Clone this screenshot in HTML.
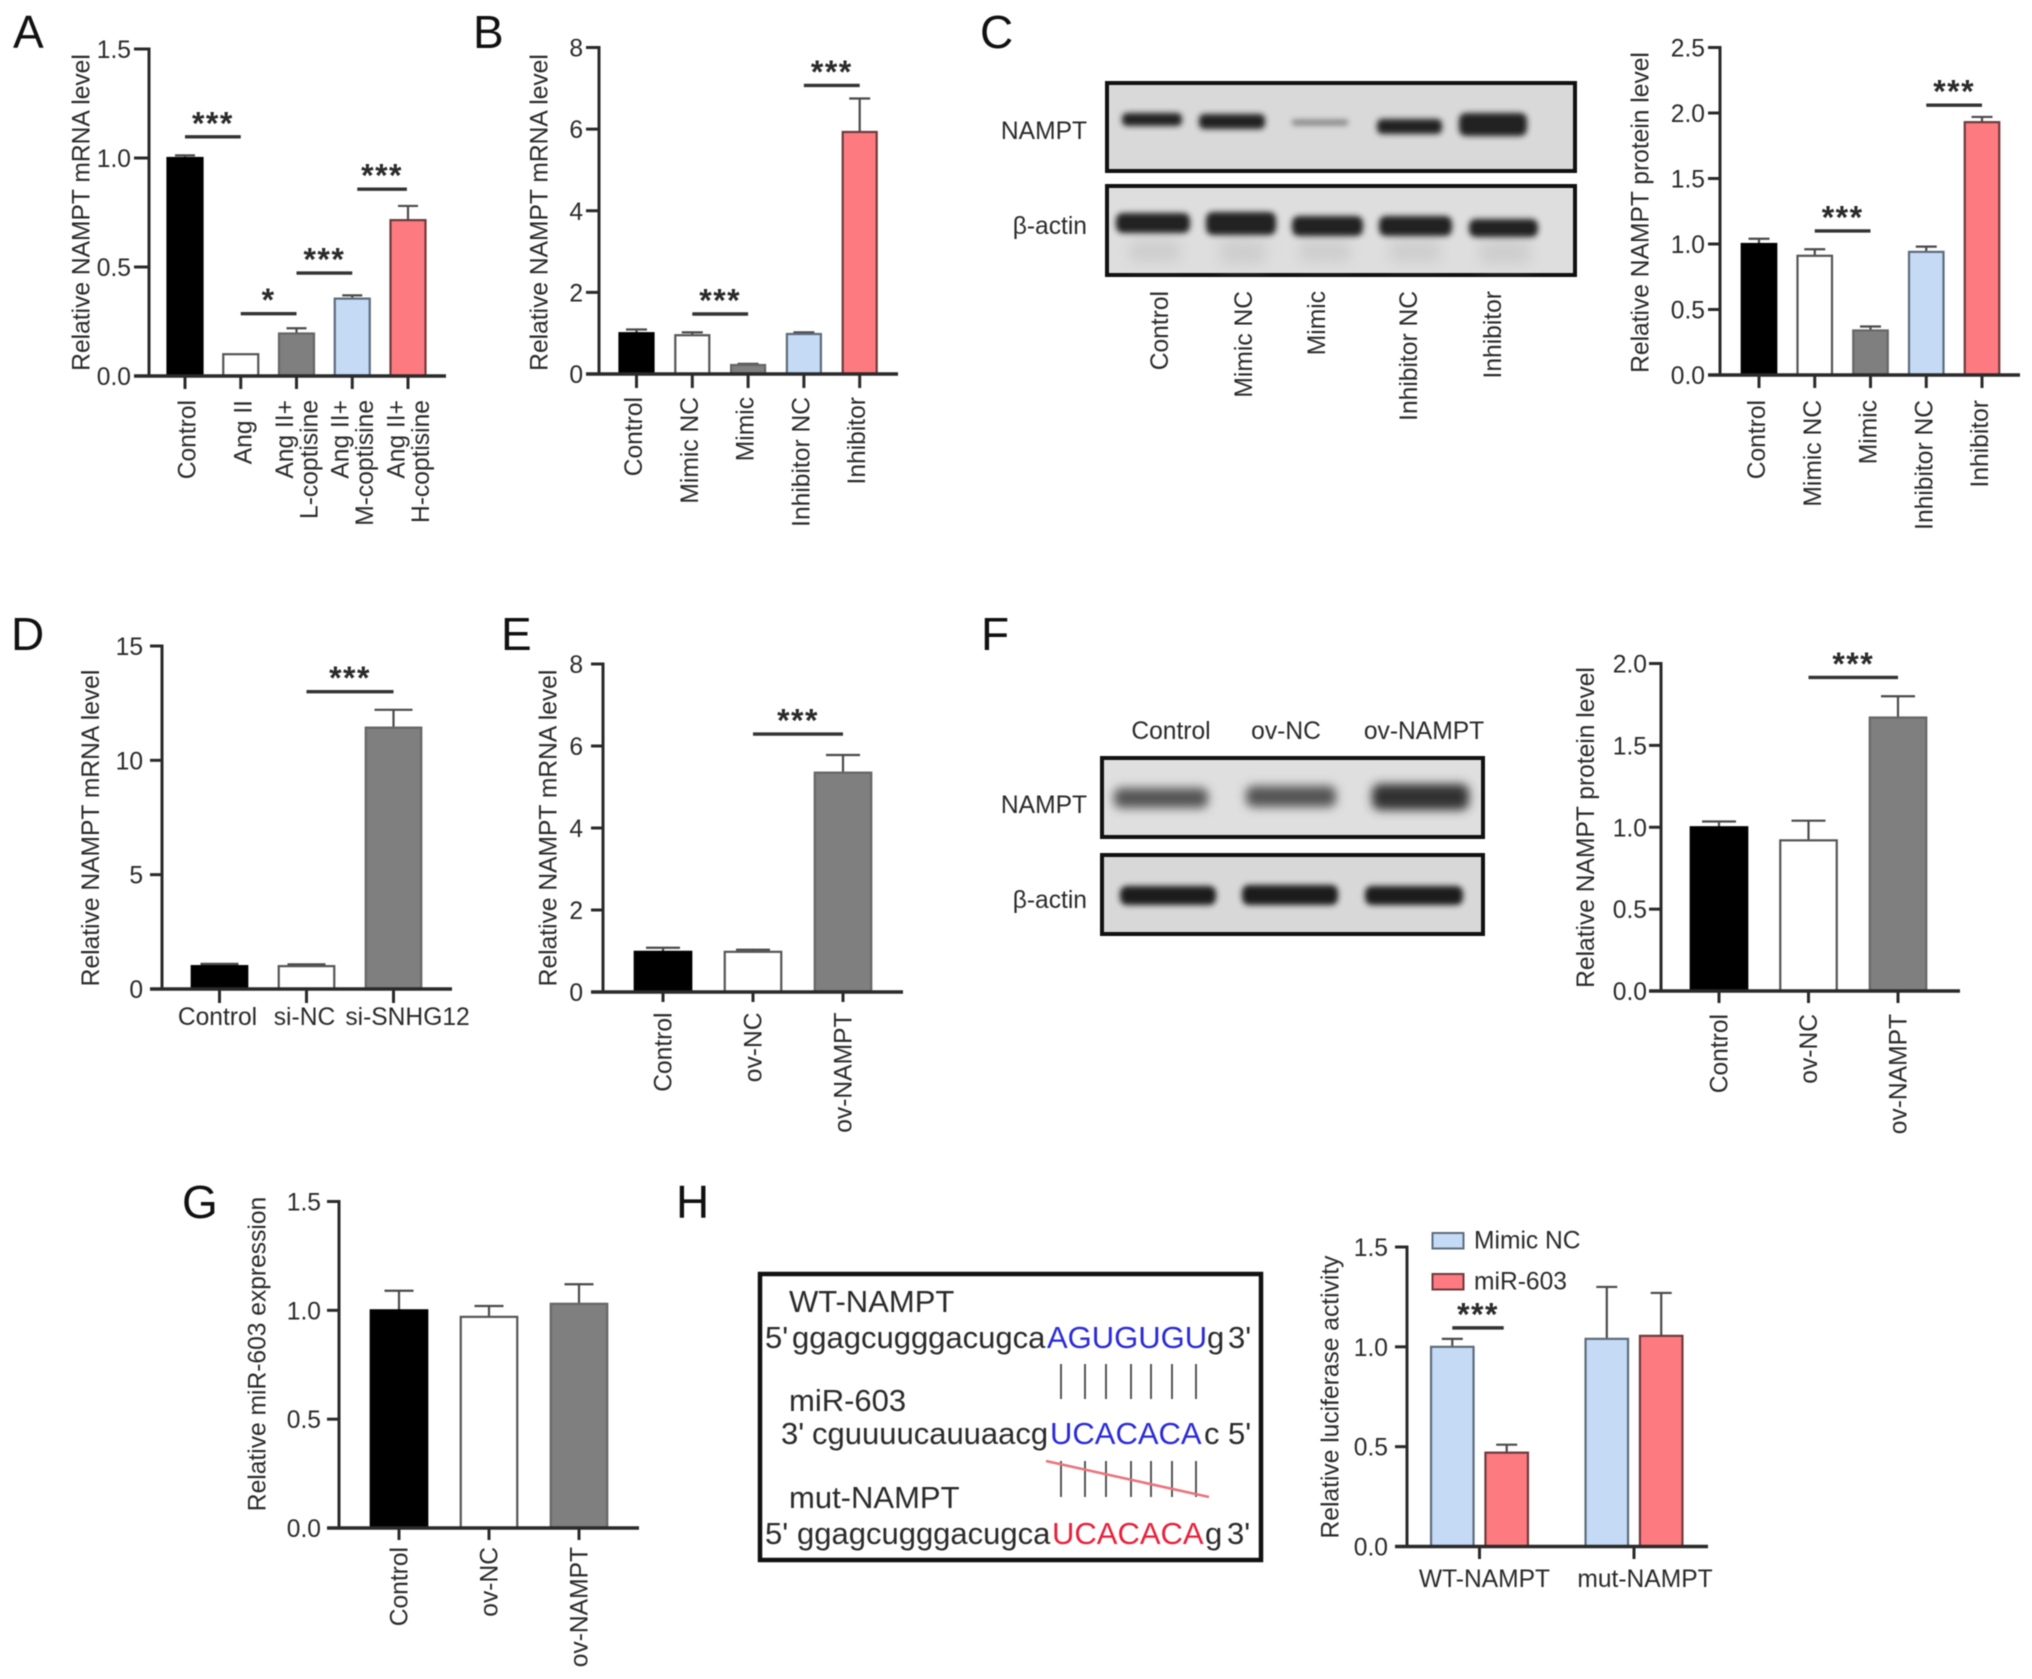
<!DOCTYPE html>
<html lang="en">
<head>
<meta charset="utf-8">
<title>NAMPT expression figure</title>
<style>
html,body{margin:0;padding:0;background:#fff;width:2032px;height:1679px;overflow:hidden}
svg{display:block;filter:blur(0.6px)}
text{font-family:"Liberation Sans",sans-serif;fill:#2a2a2a}
.letter{font-size:46px;fill:#111}
.lab{font-size:24.6px}
.seq{font-size:31px}
</style>
</head>
<body>
<svg id="fig" xmlns="http://www.w3.org/2000/svg" width="2032" height="1679" viewBox="0 0 2032 1679">
<defs>
<filter id="b2" x="-30%" y="-100%" width="160%" height="300%"><feGaussianBlur stdDeviation="3"/></filter>
<filter id="b4" x="-30%" y="-100%" width="160%" height="300%"><feGaussianBlur stdDeviation="5"/></filter>
<filter id="b8" x="-30%" y="-100%" width="160%" height="300%"><feGaussianBlur stdDeviation="7"/></filter>
</defs>
<rect width="2032" height="1679" fill="#fff"/>

<g>
<text class="letter" x="13" y="48">A</text>
<text class="letter" x="473" y="48">B</text>
<text class="letter" x="980" y="48">C</text>
<text class="letter" x="11" y="650">D</text>
<text class="letter" x="501" y="650">E</text>
<text class="letter" x="981" y="650">F</text>
<text class="letter" x="182" y="1218">G</text>
<text class="letter" x="676" y="1218">H</text>
</g>

<g>
<rect x="1107" y="83" width="468" height="88" fill="#d9d9d9" stroke="#111" stroke-width="4"/>
<rect x="1107" y="186" width="468" height="89" fill="#dedede" stroke="#111" stroke-width="4"/>
<g fill="#cdcdcd" filter="url(#b8)">
<rect x="1130" y="240" width="50" height="22"/>
<rect x="1220" y="240" width="45" height="24"/>
<rect x="1300" y="240" width="50" height="22"/>
<rect x="1390" y="240" width="50" height="22"/>
<rect x="1480" y="240" width="50" height="24"/>
</g>
<g fill="#242424" filter="url(#b2)">
<rect x="1122" y="113" width="60" height="13" rx="5"/>
<rect x="1199" y="114" width="66" height="15" rx="5"/>
<rect x="1292" y="120" width="56" height="5" rx="2" fill="#777"/>
<rect x="1377" y="119" width="65" height="15" rx="5"/>
<rect x="1459" y="113" width="68" height="23" rx="7"/>
<rect x="1116" y="213" width="74" height="20" rx="7"/>
<rect x="1206" y="212" width="70" height="23" rx="7"/>
<rect x="1292" y="216" width="71" height="20" rx="7"/>
<rect x="1379" y="216" width="73" height="20" rx="7"/>
<rect x="1469" y="219" width="69" height="18" rx="7"/>
</g>
<text class="lab" x="1087" y="139" text-anchor="end">NAMPT</text>
<text class="lab" x="1087" y="234" text-anchor="end">β-actin</text>
<text class="lab" transform="translate(1168,291) rotate(-90)" text-anchor="end">Control</text>
<text class="lab" transform="translate(1252,291) rotate(-90)" text-anchor="end">Mimic NC</text>
<text class="lab" transform="translate(1325,291) rotate(-90)" text-anchor="end">Mimic</text>
<text class="lab" transform="translate(1417,291) rotate(-90)" text-anchor="end">Inhibitor NC</text>
<text class="lab" transform="translate(1501,291) rotate(-90)" text-anchor="end">Inhibitor</text>
</g>

<g>
<rect x="1102" y="758" width="381" height="79" fill="#dfdfdf" stroke="#111" stroke-width="4"/>
<rect x="1102" y="855" width="381" height="79" fill="#d8d8d8" stroke="#111" stroke-width="4"/>
<g fill="#333" filter="url(#b4)">
<rect x="1114" y="788" width="94" height="20" rx="7" fill="#555"/>
<rect x="1246" y="786" width="90" height="21" rx="7" fill="#555"/>
<rect x="1372" y="784" width="97" height="26" rx="8"/>
</g>
<g fill="#1a1a1a" filter="url(#b2)">
<rect x="1120" y="886" width="96" height="19" rx="7"/>
<rect x="1242" y="885" width="96" height="20" rx="7"/>
<rect x="1365" y="886" width="98" height="19" rx="7"/>
</g>
<text class="lab" x="1171" y="739" text-anchor="middle">Control</text>
<text class="lab" x="1286" y="739" text-anchor="middle">ov-NC</text>
<text class="lab" x="1424" y="739" text-anchor="middle">ov-NAMPT</text>
<text class="lab" x="1087" y="813" text-anchor="end">NAMPT</text>
<text class="lab" x="1087" y="908" text-anchor="end">β-actin</text>
</g>

<g>
<rect x="760" y="1274" width="501" height="286" fill="#fff" stroke="#111" stroke-width="4.5"/>
<text class="seq" x="789" y="1312">WT-NAMPT</text>
<text class="seq" x="765" y="1348">5'</text>
<text class="seq" x="792" y="1348">ggagcugggacugca</text>
<text class="seq" x="1047" y="1348" style="fill:#2a2ad8">AGUGUGU</text>
<text class="seq" x="1207" y="1348">g</text>
<text class="seq" x="1228" y="1348">3'</text>
<text class="seq" x="789" y="1411">miR-603</text>
<text class="seq" x="781" y="1444">3'</text>
<text class="seq" x="812" y="1444">cguuuucauuaacg</text>
<text class="seq" x="1050" y="1444" style="fill:#2a2ad8">UCACACA</text>
<text class="seq" x="1204" y="1444">c</text>
<text class="seq" x="1228" y="1444">5'</text>
<text class="seq" x="789" y="1508">mut-NAMPT</text>
<text class="seq" x="765" y="1544">5'</text>
<text class="seq" x="797" y="1544">ggagcugggacugca</text>
<text class="seq" x="1052" y="1544" style="fill:#e8203a">UCACACA</text>
<text class="seq" x="1205" y="1544">g</text>
<text class="seq" x="1227" y="1544">3'</text>
<g stroke="#444" stroke-width="1.8">
<line x1="1061" x2="1061" y1="1364" y2="1399"/><line x1="1085" x2="1085" y1="1364" y2="1399"/><line x1="1106" x2="1106" y1="1364" y2="1399"/><line x1="1131" x2="1131" y1="1364" y2="1399"/><line x1="1151" x2="1151" y1="1364" y2="1399"/><line x1="1172" x2="1172" y1="1364" y2="1399"/><line x1="1196" x2="1196" y1="1364" y2="1399"/>
</g>
<g stroke="#444" stroke-width="1.8">
<line x1="1061" x2="1061" y1="1461" y2="1497"/><line x1="1085" x2="1085" y1="1461" y2="1497"/><line x1="1106" x2="1106" y1="1461" y2="1497"/><line x1="1131" x2="1131" y1="1461" y2="1497"/><line x1="1151" x2="1151" y1="1461" y2="1497"/><line x1="1172" x2="1172" y1="1461" y2="1497"/><line x1="1196" x2="1196" y1="1461" y2="1497"/>
</g>
<line x1="1046" y1="1461" x2="1209" y2="1497" stroke="#e9747c" stroke-width="2.6"/>
</g>
</svg>

<script>
// ---------- chart data ----------
const panelACategories = ['Control', 'Ang II', 'Ang II+\nL-coptisine', 'Ang II+\nM-coptisine', 'Ang II+\nH-coptisine'];
const panelAValues = [1.0, 0.1, 0.195, 0.355, 0.715];
const panelAErrors = [0.012, 0, 0.024, 0.015, 0.065];
const panelATicks = ['0.0', '0.5', '1.0', '1.5'];
const panelASigFrom = [0, 1, 2, 3.09];
const panelASigTo = [1, 2, 3, 3.98];
const panelASigLevel = [1.097, 0.286, 0.472, 0.857];
const panelASigMark = ['***', '*', '***', '***'];

const panelBCategories = ['Control', 'Mimic NC', 'Mimic', 'Inhibitor NC', 'Inhibitor'];
const panelBValues = [1.0, 0.95, 0.22, 0.98, 5.93];
const panelBErrors = [0.09, 0.07, 0.03, 0.04, 0.82];
const panelBTicks = ['0', '2', '4', '6', '8'];
const panelBSigFrom = [1, 3];
const panelBSigTo = [2, 4];
const panelBSigLevel = [1.47, 7.07];
const panelBSigMark = ['***', '***'];

const panelCCategories = ['Control', 'Mimic NC', 'Mimic', 'Inhibitor NC', 'Inhibitor'];
const panelCValues = [1.0, 0.91, 0.34, 0.94, 1.93];
const panelCErrors = [0.04, 0.05, 0.03, 0.04, 0.04];
const panelCTicks = ['0.0', '0.5', '1.0', '1.5', '2.0', '2.5'];
const panelCSigFrom = [1, 3];
const panelCSigTo = [2, 4];
const panelCSigLevel = [1.10, 2.06];
const panelCSigMark = ['***', '***'];

const panelDCategories = ['Control', 'si-NC', 'si-SNHG12'];
const panelDValues = [1.0, 1.0, 11.43];
const panelDErrors = [0.1, 0.08, 0.78];
const panelDTicks = ['0', '5', '10', '15'];
const panelDSigFrom = [1];
const panelDSigTo = [2];
const panelDSigLevel = [13.0];
const panelDSigMark = ['***'];

const panelECategories = ['Control', 'ov-NC', 'ov-NAMPT'];
const panelEValues = [0.98, 0.98, 5.35];
const panelEErrors = [0.1, 0.05, 0.43];
const panelETicks = ['0', '2', '4', '6', '8'];
const panelESigFrom = [1];
const panelESigTo = [2];
const panelESigLevel = [6.29];
const panelESigMark = ['***'];

const panelFCategories = ['Control', 'ov-NC', 'ov-NAMPT'];
const panelFValues = [1.0, 0.92, 1.67];
const panelFErrors = [0.035, 0.12, 0.13];
const panelFTicks = ['0.0', '0.5', '1.0', '1.5', '2.0'];
const panelFSigFrom = [1];
const panelFSigTo = [2];
const panelFSigLevel = [1.915];
const panelFSigMark = ['***'];

const panelGCategories = ['Control', 'ov-NC', 'ov-NAMPT'];
const panelGValues = [1.0, 0.97, 1.03];
const panelGErrors = [0.09, 0.05, 0.09];
const panelGTicks = ['0.0', '0.5', '1.0', '1.5'];

const panelHCategories = ['WT-NAMPT', 'mut-NAMPT'];
const panelHSeriesNames = ['Mimic NC', 'miR-603'];
const panelHMimicValues = [1.0, 1.04];
const panelHMimicErrors = [0.04, 0.26];
const panelHMirValues = [0.47, 1.055];
const panelHMirErrors = [0.04, 0.215];
const panelHTicks = ['0.0', '0.5', '1.0', '1.5'];
const panelHSigLevel = [1.095];
const panelHSigMark = ['***'];

// ---------- styles ----------
const BLACK = { fill: '#000', stroke: '#000' };
const WHITE = { fill: '#fff', stroke: '#555' };
const GREY = { fill: '#7f7f7f', stroke: '#666' };
const BLUE = { fill: '#c5daf5', stroke: '#5d6c7c' };
const RED = { fill: '#fd7b80', stroke: '#6e3a3c' };
const AXIS = '#2a2a2a';
const fig = document.getElementById('fig');
const NS = 'http://www.w3.org/2000/svg';

function mk(tag, attrs, parent) {
  const el = document.createElementNS(NS, tag);
  for (const k in attrs) el.setAttribute(k, attrs[k]);
  parent.appendChild(el);
  return el;
}

function yScale(cfg, ticks) {
  const max = parseFloat(ticks[ticks.length - 1]);
  return function (v) { return cfg.y0 - (v / max) * (cfg.y0 - cfg.yTop); };
}

function drawAxes(g, cfg, ticks, y) {
  const yAxis = mk('line', { x1: cfg.axisX, x2: cfg.axisX, y1: cfg.yTop - 1.5, y2: cfg.y0, stroke: AXIS, 'stroke-width': 3 }, g);
  
  
  const xAxis = mk('line', { x1: cfg.tickLeft, x2: cfg.axisEnd, y1: cfg.y0, y2: cfg.y0, stroke: AXIS, 'stroke-width': 3.4 }, g);
  
  
  ticks.forEach(function (label) {
    const v = parseFloat(label);
    const tick = mk('line', { x1: cfg.tickLeft, x2: cfg.axisX, y1: y(v), y2: y(v), stroke: AXIS, 'stroke-width': 3 }, g);
    
    
    const t = mk('text', { x: cfg.labelRight, y: y(v) + 9, 'text-anchor': 'end', 'class': 'lab' }, g);
    t.textContent = label;
    
    
  });
  const title = mk('text', { transform: 'translate(' + (cfg.titleX + 8.5) + ',' + cfg.titleY + ') rotate(-90)', 'text-anchor': 'middle', 'class': 'lab' }, g);
  title.textContent = cfg.title;
  
  
}

function drawXTick(g, x, cfg, name) {
  const tick = mk('line', { x1: x, x2: x, y1: cfg.y0, y2: cfg.tickBottom, stroke: AXIS, 'stroke-width': 3 }, g);
  
  
}

function drawBar(g, x, w, value, err, style, cap, y, cfg, name) {
  if (err > 0) {
    const stem = mk('line', { x1: x, x2: x, y1: y(value), y2: y(value + err), stroke: '#4a4a4a', 'stroke-width': 2.2 }, g);
    
    
    const capLine = mk('line', { x1: x - cap / 2, x2: x + cap / 2, y1: y(value + err), y2: y(value + err), stroke: '#4a4a4a', 'stroke-width': 2.2 }, g);
    
    
  }
  const bar = mk('rect', { x: x - w / 2 + 1, y: y(value), width: w - 2, height: cfg.y0 - y(value), fill: style.fill, stroke: style.stroke, 'stroke-width': 2.2 }, g);
  
  
}

function drawSig(g, x1, x2, level, mark, y, name) {
  const line = mk('line', { x1: x1, x2: x2, y1: y(level), y2: y(level), stroke: '#333', 'stroke-width': 3.4 }, g);
  
  
  const t = mk('text', { x: (x1 + x2) / 2, y: y(level) - 2.5, 'text-anchor': 'middle', 'font-size': 32, 'font-weight': 'bold', 'letter-spacing': 1.5 }, g);
  t.textContent = mark;
  
  
}

function drawBarChart(cfg, categories, values, errors, ticks, styles, sigFrom, sigTo, sigLevel, sigMark) {
  const g = mk('g', {}, fig);
  
  
  const y = yScale(cfg, ticks);
  const cx = function (i) { return cfg.firstX + i * cfg.step; };
  values.forEach(function (v, i) {
    const name = categories[i].replace(/\s+/g, '-').toLowerCase();
    drawBar(g, cx(i), cfg.barW, v, errors[i], styles[i], cfg.cap, y, cfg, name);
    drawXTick(g, cx(i), cfg, name);
    const shift = cfg.labelShift ? cfg.labelShift(i) : 0;
    if (cfg.horizontal) {
      const t = mk('text', { x: cx(i) + shift, y: cfg.labelY, 'text-anchor': 'middle', 'class': 'lab' }, g);
      t.textContent = categories[i];
      
      
    } else {
      const lines = categories[i].split('\n');
      lines.forEach(function (ln, k) {
        const off = (k - (lines.length - 1) / 2) * 24.5;
        const px = cx(i) + shift + off + 8.5;
        const t = mk('text', { transform: 'translate(' + px + ',' + cfg.labelY + ') rotate(-90)', 'text-anchor': 'end', 'class': 'lab' }, g);
        t.textContent = ln;
        
        
      });
    }
  });
  drawAxes(g, cfg, ticks, y);
  (sigLevel || []).forEach(function (lvl, i) {
    drawSig(g, cx(sigFrom[i]), cx(sigTo[i]), lvl, sigMark[i], y, String(i));
  });
}

const FIVE = [BLACK, WHITE, GREY, BLUE, RED];
const THREE = [BLACK, WHITE, GREY];

drawBarChart({ name: 'chart-a', axisX: 149, tickLeft: 134, axisEnd: 446, labelRight: 131, yTop: 49, y0: 376, firstX: 185, step: 55.75, barW: 37, cap: 20, tickBottom: 389, labelY: 400, labelShift: function (i) { return i < 2 ? 2 : 0; }, title: 'Relative NAMPT mRNA level', titleX: 81, titleY: 212.5 },
  panelACategories, panelAValues, panelAErrors, panelATicks, FIVE, panelASigFrom, panelASigTo, panelASigLevel, panelASigMark);

drawBarChart({ name: 'chart-b', axisX: 599, tickLeft: 586, axisEnd: 898, labelRight: 583, yTop: 47.5, y0: 374, firstX: 636.5, step: 55.8, barW: 36, cap: 21, tickBottom: 388, labelY: 397, labelShift: function () { return -3; }, title: 'Relative NAMPT mRNA level', titleX: 539, titleY: 212.5 },
  panelBCategories, panelBValues, panelBErrors, panelBTicks, FIVE, panelBSigFrom, panelBSigTo, panelBSigLevel, panelBSigMark);

drawBarChart({ name: 'chart-c', axisX: 1720, tickLeft: 1708, axisEnd: 2020, labelRight: 1705, yTop: 47.5, y0: 375, firstX: 1759, step: 55.75, barW: 36.5, cap: 21, tickBottom: 388, labelY: 400, labelShift: function () { return -2.5; }, title: 'Relative NAMPT protein level', titleX: 1640, titleY: 212.5 },
  panelCCategories, panelCValues, panelCErrors, panelCTicks, FIVE, panelCSigFrom, panelCSigTo, panelCSigLevel, panelCSigMark);

drawBarChart({ name: 'chart-d', axisX: 162, tickLeft: 150, axisEnd: 452, labelRight: 143, yTop: 646, y0: 989, firstX: 219.5, step: 87, barW: 57.5, cap: 38, tickBottom: 1003, labelY: 1025, horizontal: true, labelShift: function (i) { return i === 2 ? 14 : -2; }, title: 'Relative NAMPT mRNA level', titleX: 90.5, titleY: 828 },
  panelDCategories, panelDValues, panelDErrors, panelDTicks, THREE, panelDSigFrom, panelDSigTo, panelDSigLevel, panelDSigMark);

drawBarChart({ name: 'chart-e', axisX: 603, tickLeft: 591, axisEnd: 903, labelRight: 583, yTop: 664, y0: 992, firstX: 663, step: 90, barW: 58.5, cap: 34, tickBottom: 1002, labelY: 1012.5, title: 'Relative NAMPT mRNA level', titleX: 548, titleY: 828 },
  panelECategories, panelEValues, panelEErrors, panelETicks, THREE, panelESigFrom, panelESigTo, panelESigLevel, panelESigMark);

drawBarChart({ name: 'chart-f', axisX: 1661, tickLeft: 1649, axisEnd: 1960, labelRight: 1647, yTop: 663.5, y0: 991, firstX: 1719, step: 89.5, barW: 58.5, cap: 34, tickBottom: 1003, labelY: 1014, title: 'Relative NAMPT protein level', titleX: 1585.5, titleY: 827.5 },
  panelFCategories, panelFValues, panelFErrors, panelFTicks, THREE, panelFSigFrom, panelFSigTo, panelFSigLevel, panelFSigMark);

drawBarChart({ name: 'chart-g', axisX: 339, tickLeft: 327, axisEnd: 639, labelRight: 321, yTop: 1201.5, y0: 1528, firstX: 399, step: 90, barW: 58.5, cap: 29, tickBottom: 1540, labelY: 1547, title: 'Relative miR-603 expression', titleX: 257, titleY: 1354 },
  panelGCategories, panelGValues, panelGErrors, panelGTicks, THREE);

// grouped chart H
(function () {
  const cfg = { axisX: 1407, tickLeft: 1395, axisEnd: 1708, labelRight: 1388, yTop: 1247, y0: 1546.5, firstX: 1479.5, step: 154.5, barW: 44.5, barOffset: 27.2, cap: 21, tickBottom: 1559, labelY: 1587, title: 'Relative luciferase activity', titleX: 1330, titleY: 1397 };
  const g = mk('g', {}, fig);
  
  
  const y = yScale(cfg, panelHTicks);
  panelHCategories.forEach(function (cat, i) {
    const c = cfg.firstX + i * cfg.step;
    const name = cat.toLowerCase();
    drawBar(g, c - cfg.barOffset, cfg.barW, panelHMimicValues[i], panelHMimicErrors[i], BLUE, cfg.cap, y, cfg, name + '-mimic-nc');
    drawBar(g, c + cfg.barOffset, cfg.barW, panelHMirValues[i], panelHMirErrors[i], RED, cfg.cap, y, cfg, name + '-mir-603');
    drawXTick(g, c, cfg, name);
    const t = mk('text', { x: c + (i === 0 ? 5 : 11), y: cfg.labelY, 'text-anchor': 'middle', 'class': 'lab' }, g);
    t.textContent = cat;
    
    
  });
  drawAxes(g, cfg, panelHTicks, y);
  drawSig(g, cfg.firstX - cfg.barOffset, cfg.firstX + cfg.barOffset - 3, panelHSigLevel[0], panelHSigMark[0], y, '0');
  const legendStyles = [BLUE, RED];
  panelHSeriesNames.forEach(function (nm, i) {
    const ly = 1233 + i * 41;
    const key = nm.replace(/\s+/g, '-').toLowerCase();
    const sw = mk('rect', { x: 1432.5, y: ly, width: 31, height: 15.5, fill: legendStyles[i].fill, stroke: legendStyles[i].stroke, 'stroke-width': 2 }, g);
    
    
    const t = mk('text', { x: 1474, y: ly + 15.5, 'class': 'lab' }, g);
    t.textContent = nm;
    
    
  });
})();
</script>
</body>
</html>
